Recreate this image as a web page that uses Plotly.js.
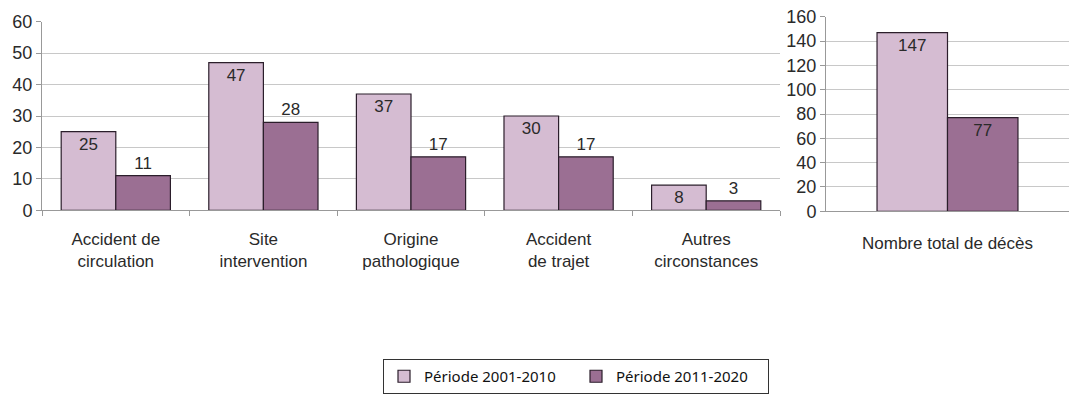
<!DOCTYPE html>
<html><head><meta charset="utf-8">
<script src="https://cdn.plot.ly/plotly-3.0.1.min.js"></script>
<style>html,body{margin:0;padding:0;background:#fff}</style>
</head><body>
<div id="chart" style="width:1069px;height:394px"></div>
<script>
const categories = ["Accident de<br>circulation", "Site<br>intervention", "Origine<br>pathologique", "Accident<br>de trajet", "Autres<br>circonstances"];
const period1 = [25, 47, 37, 30, 8];
const period2 = [11, 28, 17, 17, 3];
const totalCategory = ["Nombre total de décès"];
const total1 = [147];
const total2 = [77];
const seriesNames = ["Période 2001-2010", "Période 2011-2020"];

const light = "#d5bcd2", dark = "#9b6f93", outline = "#2b1e2b";
const FAM = "Arial";
const txt = {family: FAM, size: 17, color: "#2a2a2a"};

const traces = [
  {type: "bar", x: categories, y: period1, name: seriesNames[0], xaxis: "x", yaxis: "y",
   marker: {color: light, line: {color: outline, width: 1.2}},
   text: period1.map(String), textposition: "inside", insidetextanchor: "end",
   textfont: txt, constraintext: "none", cliponaxis: false},
  {type: "bar", x: categories, y: period2, name: seriesNames[1], xaxis: "x", yaxis: "y",
   marker: {color: dark, line: {color: outline, width: 1.2}},
   text: period2.map(String), textposition: "outside",
   textfont: txt, constraintext: "none", cliponaxis: false},
  {type: "bar", x: totalCategory, y: total1, name: seriesNames[0], xaxis: "x2", yaxis: "y2", showlegend: false,
   width: 0.29, offset: -0.29,
   marker: {color: light, line: {color: outline, width: 1.2}},
   text: total1.map(String), textposition: "inside", insidetextanchor: "end",
   textfont: txt, constraintext: "none"},
  {type: "bar", x: totalCategory, y: total2, name: seriesNames[1], xaxis: "x2", yaxis: "y2", showlegend: false,
   width: 0.29, offset: 0,
   marker: {color: dark, line: {color: outline, width: 1.2}},
   text: total2.map(String), textposition: "inside", insidetextanchor: "end",
   textfont: txt, constraintext: "none"}
];

const H = 394, W = 1069;
const axisFont = {family: FAM, size: 18, color: "#2a2a2a"};
const catFont = {family: FAM, size: 17, color: "#2a2a2a"};
const layout = {
  width: W, height: H,
  margin: {l: 0, r: 0, t: 0, b: 0},
  paper_bgcolor: "#fff", plot_bgcolor: "#fff",
  barmode: "group", bargap: 0.26, bargroupgap: 0,
  showlegend: true,
  font: axisFont,
  xaxis: {domain: [42 / W, 780 / W], anchor: "y", showline: true, linecolor: "#999", linewidth: 1,
          ticks: "outside", tickson: "boundaries", ticklen: 5, tickcolor: "#999",
          ticklabelstandoff: 13,
          tickfont: catFont, automargin: false, showgrid: false, zeroline: false, fixedrange: true},
  yaxis: {domain: [(H - 213) / H, (H - 22) / H], anchor: "x", range: [0, 60], dtick: 10,
          showline: true, linecolor: "#999", ticks: "outside", ticklen: 5, tickcolor: "#999",
          gridcolor: "#c8c8c8", gridwidth: 1, zeroline: false, tickfont: axisFont, automargin: false},
  xaxis2: {domain: [826 / W, 1], anchor: "y2", showline: true, linecolor: "#999", ticks: "",
           ticklabelstandoff: 16,
           tickfont: catFont, automargin: false, showgrid: false, zeroline: false},
  yaxis2: {domain: [(H - 214) / H, (H - 17) / H], anchor: "x2", range: [0, 160], dtick: 20,
           showline: true, linecolor: "#999", ticks: "outside", ticklen: 5, tickcolor: "#999",
           gridcolor: "#c8c8c8", gridwidth: 1, zeroline: false, tickfont: axisFont, automargin: false},
  legend: {orientation: "h", x: 383 / W, xanchor: "left", y: 1 - 364 / H, yanchor: "top",
           bordercolor: "#333", borderwidth: 1, bgcolor: "#fff",
           font: {family: "Noto Sans", size: 15, color: "#111"},
           entrywidth: 147, entrywidthmode: "pixels", traceorder: "normal"}
};

Plotly.newPlot("chart", traces, layout, {displayModeBar: false, staticPlot: true});
</script>
</body></html>
